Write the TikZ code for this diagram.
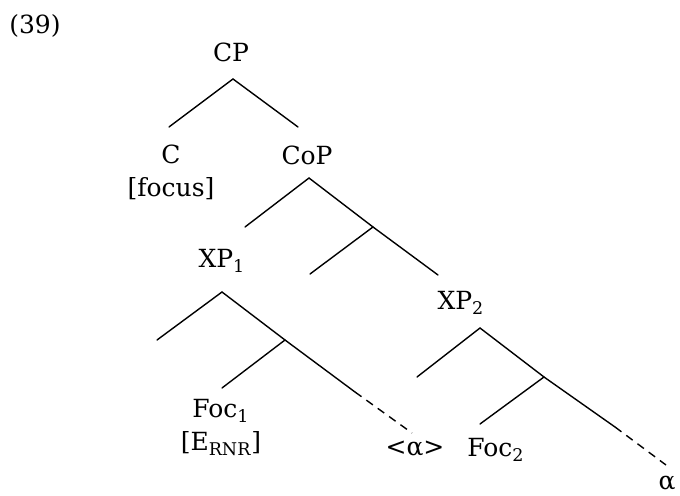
\documentclass[tikz,border=0pt]{standalone}
\usepackage{fontspec}
\setmainfont{DejaVu Serif}

\begin{document}
\begin{tikzpicture}[
  x=0.5pt,y=-0.5pt,
  every node/.style={font=\fontsize{12.5}{16.5}\selectfont,align=center,inner sep=0pt},
  cat/.style={anchor=base},
  branch/.style={line width=0.7pt,line cap=round},
  trace/.style={line width=0.7pt,dash pattern=on 4pt off 3pt}
]
\useasboundingbox (0,0) rectangle (680,496);
\node[cat] (ex) at (35,34) {(39)};
\node[cat] (cp) at (231,62) {CP};
\node[cat] (c) at (171,197) {C\\{[}focus{]}};
\node[cat] (cop) at (307,165) {CoP};
\node[cat] (xp1) at (222,268) {XP\textsubscript{1}};
\node[cat] (xp2) at (461,310) {XP\textsubscript{2}};
\node[cat] (foc1) at (221,451) {Foc\textsubscript{1}\\{[}E\textsubscript{RNR}{]}};
\node[cat] (copy) at (415,456) {<α>};
\node[cat] (foc2) at (496,457) {Foc\textsubscript{2}};
\node[cat] (alpha) at (667,489) {α};
\coordinate (cp-b) at (233,79);
\coordinate (c-t) at (169,127);
\coordinate (cop-t) at (298,127);
\coordinate (cop-b) at (309,178);
\coordinate (xp1-t) at (245,227);
\coordinate (cobar) at (373,227);
\coordinate (co) at (310,274);
\coordinate (xp2-t) at (438,275);
\coordinate (xp1-b) at (222,292);
\coordinate (spec1) at (157,340);
\coordinate (xbar1) at (285,340);
\coordinate (foc1-t) at (222,388);
\coordinate (cut1) at (355,392);
\coordinate (copy-t) at (412,433);
\coordinate (xp2-b) at (480,328);
\coordinate (spec2) at (417,377);
\coordinate (xbar2) at (544,377);
\coordinate (foc2-t) at (480,424);
\coordinate (cut2) at (615,427);
\coordinate (alpha-t) at (666,465);
\draw[branch] (c-t) -- (cp-b) -- (cop-t);
\draw[branch] (xp1-t) -- (cop-b) -- (cobar) -- (xp2-t);
\draw[branch] (cobar) -- (co);
\draw[branch] (spec1) -- (xp1-b) -- (xbar1) -- (cut1);
\draw[branch] (xbar1) -- (foc1-t);
\draw[trace] (cut1) -- (copy-t);
\draw[branch] (spec2) -- (xp2-b) -- (xbar2) -- (cut2);
\draw[branch] (xbar2) -- (foc2-t);
\draw[trace] (cut2) -- (alpha-t);
\end{tikzpicture}
\end{document}
